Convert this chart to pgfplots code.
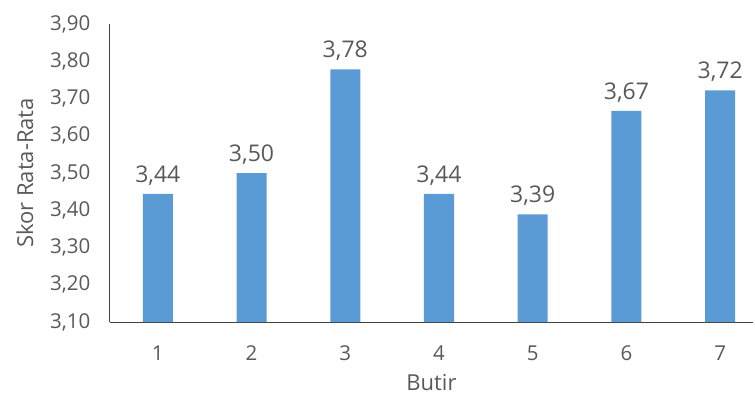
\documentclass[border=0pt]{standalone}
\usepackage{fontspec}
\setmainfont{Open Sans}
\usepackage{pgfplots}
\pgfplotsset{compat=1.18}
\definecolor{barblue}{HTML}{5B9BD5}
\definecolor{txtgray}{HTML}{595959}
\definecolor{axgray}{HTML}{404040}
\begin{document}
\begin{tikzpicture}[x=1pt,y=1pt]
\path[use as bounding box] (-110,-77) rectangle (645,322);
\begin{axis}[
  at={(0,0)}, anchor=south west,
  scale only axis, width=643pt, height=298pt,
  xmin=0.49, xmax=7.35,
  ymin=3.1, ymax=3.9,
  ytick={3.1,3.2,...,3.91},
  xtick={1,...,7},
  axis lines=left,
  axis line style={axgray, line width=1pt, -},
  tick style={draw=none},
  ybar, bar width=30pt,
  /pgf/number format/.cd, use comma, fixed, fixed zerofill, precision=2, assume math mode=true,
  /pgfplots/.cd,
  yticklabel style={font=\fontsize{20.5}{20.5}\selectfont, text=txtgray, xshift=-14pt},
  xticklabel style={font=\fontsize{20.5}{20.5}\selectfont, text=txtgray, yshift=-16pt},
  xticklabel={\pgfmathprintnumber[fixed, precision=0]{\tick}},
  ylabel={Skor Rata-Rata},
  xlabel={Butir},
  label style={font=\fontsize{22}{22}\selectfont, text=txtgray},
  ylabel style={yshift=10pt},
  xlabel style={yshift=-9pt, inner sep=1pt},
  nodes near coords,
  every node near coord/.append style={font=\fontsize{23}{23}\selectfont, text=txtgray, yshift=5pt},
  clip=false,
]
\addplot[fill=barblue, draw=none] coordinates {
 (1,3.444) (2,3.5) (3,3.778) (4,3.444) (5,3.389) (6,3.667) (7,3.722)
};
\end{axis}
\end{tikzpicture}
\end{document}
